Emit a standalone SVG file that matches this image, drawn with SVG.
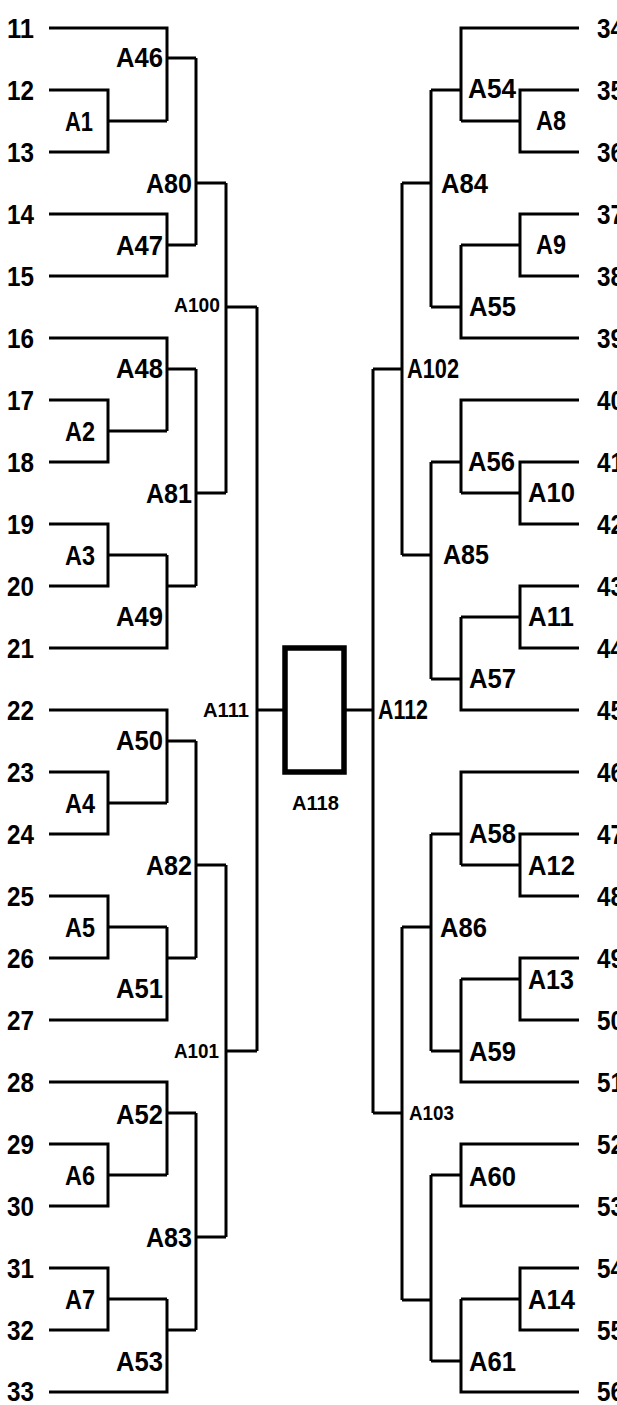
<svg xmlns="http://www.w3.org/2000/svg" width="617" height="1405" viewBox="0 0 617 1405">
<style>
.c{fill:none;stroke:#000;stroke-width:3;stroke-linejoin:miter;stroke-linecap:butt}
.t{font-family:"Liberation Sans",Arial,sans-serif;font-size:28px;font-weight:bold;fill:#000}
.s{font-family:"Liberation Sans",Arial,sans-serif;font-size:20px;font-weight:bold;fill:#000}
.box{fill:#fff;stroke:#000;stroke-width:5.5}
</style>
<rect width="617" height="1405" fill="#fff"/>
<g id="connectors" class="c">
<path d="M49 90H108V152H49M108 121H167"/>
<path d="M49 28H167V121M167 58H196"/>
<path d="M49 214H167V276H49M167 245H196"/>
<path d="M196 58V245M196 183H226"/>
<path d="M49 338H167V431M167 369H196"/>
<path d="M49 400H108V462H49M108 431H167"/>
<path d="M49 524H108V586H49M108 555H167"/>
<path d="M167 555V648H49M167 586H196"/>
<path d="M196 369V586M196 493H226"/>
<path d="M226 183V493M226 307H257"/>
<path d="M49 710H167V803M167 741H196"/>
<path d="M49 772H108V834H49M108 803H167"/>
<path d="M49 896H108V958H49M108 927H167"/>
<path d="M167 927V1020H49M167 958H196"/>
<path d="M196 741V958M196 865H226"/>
<path d="M49 1082H167V1175M167 1113H196"/>
<path d="M49 1144H108V1206H49M108 1175H167"/>
<path d="M49 1268H108V1330H49M108 1299H167"/>
<path d="M167 1299V1392H49M167 1330H196"/>
<path d="M196 1113V1330M196 1237H226"/>
<path d="M226 865V1237M226 1051H257"/>
<path d="M257 307V1051M257 710H285"/>
<path d="M579 90H520V152H579M520 121H461"/>
<path d="M579 28H461V121M461 90H431"/>
<path d="M579 214H520V276H579M520 245H461"/>
<path d="M461 245V338H579M461 307H431"/>
<path d="M431 90V307M431 183H402"/>
<path d="M579 400H461V493M461 462H431"/>
<path d="M579 462H520V524H579M520 493H461"/>
<path d="M579 586H520V648H579M520 617H461"/>
<path d="M461 617V710H579M461 679H431"/>
<path d="M431 462V679M431 555H402"/>
<path d="M402 183V555M402 369H373"/>
<path d="M579 772H461V865M461 834H431"/>
<path d="M579 834H520V896H579M520 865H461"/>
<path d="M579 958H520V1020H579M520 979H461"/>
<path d="M461 979V1082H579M461 1051H431"/>
<path d="M431 834V1051M431 927H402"/>
<path d="M579 1144H461V1206H579M461 1175H431"/>
<path d="M579 1268H520V1330H579M520 1299H461"/>
<path d="M461 1299V1392H579M461 1361H431"/>
<path d="M431 1175V1361M431 1300H402"/>
<path d="M402 927V1300M402 1113H373"/>
<path d="M373 369V1113M373 710H344"/>
</g>
<g id="teams-left" class="t">
<g id="t11"><text x="7" y="38" textLength="27" lengthAdjust="spacingAndGlyphs">11</text></g>
<g id="t12"><text x="7" y="100" textLength="27" lengthAdjust="spacingAndGlyphs">12</text></g>
<g id="t13"><text x="7" y="162" textLength="27" lengthAdjust="spacingAndGlyphs">13</text></g>
<g id="t14"><text x="7" y="224" textLength="27" lengthAdjust="spacingAndGlyphs">14</text></g>
<g id="t15"><text x="7" y="286" textLength="27" lengthAdjust="spacingAndGlyphs">15</text></g>
<g id="t16"><text x="7" y="348" textLength="27" lengthAdjust="spacingAndGlyphs">16</text></g>
<g id="t17"><text x="7" y="410" textLength="27" lengthAdjust="spacingAndGlyphs">17</text></g>
<g id="t18"><text x="7" y="472" textLength="27" lengthAdjust="spacingAndGlyphs">18</text></g>
<g id="t19"><text x="7" y="534" textLength="27" lengthAdjust="spacingAndGlyphs">19</text></g>
<g id="t20"><text x="7" y="596" textLength="27" lengthAdjust="spacingAndGlyphs">20</text></g>
<g id="t21"><text x="7" y="658" textLength="27" lengthAdjust="spacingAndGlyphs">21</text></g>
<g id="t22"><text x="7" y="720" textLength="27" lengthAdjust="spacingAndGlyphs">22</text></g>
<g id="t23"><text x="7" y="782" textLength="27" lengthAdjust="spacingAndGlyphs">23</text></g>
<g id="t24"><text x="7" y="844" textLength="27" lengthAdjust="spacingAndGlyphs">24</text></g>
<g id="t25"><text x="7" y="906" textLength="27" lengthAdjust="spacingAndGlyphs">25</text></g>
<g id="t26"><text x="7" y="968" textLength="27" lengthAdjust="spacingAndGlyphs">26</text></g>
<g id="t27"><text x="7" y="1030" textLength="27" lengthAdjust="spacingAndGlyphs">27</text></g>
<g id="t28"><text x="7" y="1092" textLength="27" lengthAdjust="spacingAndGlyphs">28</text></g>
<g id="t29"><text x="7" y="1154" textLength="27" lengthAdjust="spacingAndGlyphs">29</text></g>
<g id="t30"><text x="7" y="1216" textLength="27" lengthAdjust="spacingAndGlyphs">30</text></g>
<g id="t31"><text x="7" y="1278" textLength="27" lengthAdjust="spacingAndGlyphs">31</text></g>
<g id="t32"><text x="7" y="1340" textLength="27" lengthAdjust="spacingAndGlyphs">32</text></g>
<g id="t33"><text x="7" y="1401" textLength="27" lengthAdjust="spacingAndGlyphs">33</text></g>
</g>
<g id="teams-right" class="t">
<g id="t34"><text x="597" y="38" textLength="27" lengthAdjust="spacingAndGlyphs">34</text></g>
<g id="t35"><text x="597" y="100" textLength="27" lengthAdjust="spacingAndGlyphs">35</text></g>
<g id="t36"><text x="597" y="162" textLength="27" lengthAdjust="spacingAndGlyphs">36</text></g>
<g id="t37"><text x="597" y="224" textLength="27" lengthAdjust="spacingAndGlyphs">37</text></g>
<g id="t38"><text x="597" y="286" textLength="27" lengthAdjust="spacingAndGlyphs">38</text></g>
<g id="t39"><text x="597" y="348" textLength="27" lengthAdjust="spacingAndGlyphs">39</text></g>
<g id="t40"><text x="597" y="410" textLength="27" lengthAdjust="spacingAndGlyphs">40</text></g>
<g id="t41"><text x="597" y="472" textLength="27" lengthAdjust="spacingAndGlyphs">41</text></g>
<g id="t42"><text x="597" y="534" textLength="27" lengthAdjust="spacingAndGlyphs">42</text></g>
<g id="t43"><text x="597" y="596" textLength="27" lengthAdjust="spacingAndGlyphs">43</text></g>
<g id="t44"><text x="597" y="658" textLength="27" lengthAdjust="spacingAndGlyphs">44</text></g>
<g id="t45"><text x="597" y="720" textLength="27" lengthAdjust="spacingAndGlyphs">45</text></g>
<g id="t46"><text x="597" y="782" textLength="27" lengthAdjust="spacingAndGlyphs">46</text></g>
<g id="t47"><text x="597" y="844" textLength="27" lengthAdjust="spacingAndGlyphs">47</text></g>
<g id="t48"><text x="597" y="906" textLength="27" lengthAdjust="spacingAndGlyphs">48</text></g>
<g id="t49"><text x="597" y="968" textLength="27" lengthAdjust="spacingAndGlyphs">49</text></g>
<g id="t50"><text x="597" y="1030" textLength="27" lengthAdjust="spacingAndGlyphs">50</text></g>
<g id="t51"><text x="597" y="1092" textLength="27" lengthAdjust="spacingAndGlyphs">51</text></g>
<g id="t52"><text x="597" y="1154" textLength="27" lengthAdjust="spacingAndGlyphs">52</text></g>
<g id="t53"><text x="597" y="1216" textLength="27" lengthAdjust="spacingAndGlyphs">53</text></g>
<g id="t54"><text x="597" y="1278" textLength="27" lengthAdjust="spacingAndGlyphs">54</text></g>
<g id="t55"><text x="597" y="1340" textLength="27" lengthAdjust="spacingAndGlyphs">55</text></g>
<g id="t56"><text x="597" y="1401" textLength="27" lengthAdjust="spacingAndGlyphs">56</text></g>
</g>
<g id="matches" class="t">
<g id="A1"><text x="65" y="131" textLength="28" lengthAdjust="spacingAndGlyphs">A1</text></g>
<g id="A2"><text x="65" y="441" textLength="30" lengthAdjust="spacingAndGlyphs">A2</text></g>
<g id="A3"><text x="65" y="565" textLength="30" lengthAdjust="spacingAndGlyphs">A3</text></g>
<g id="A4"><text x="65" y="813" textLength="30" lengthAdjust="spacingAndGlyphs">A4</text></g>
<g id="A5"><text x="65" y="937" textLength="30" lengthAdjust="spacingAndGlyphs">A5</text></g>
<g id="A6"><text x="65" y="1185" textLength="30" lengthAdjust="spacingAndGlyphs">A6</text></g>
<g id="A7"><text x="65" y="1309" textLength="30" lengthAdjust="spacingAndGlyphs">A7</text></g>
<g id="A46"><text x="116" y="67" textLength="47" lengthAdjust="spacingAndGlyphs">A46</text></g>
<g id="A47"><text x="116" y="255" textLength="47" lengthAdjust="spacingAndGlyphs">A47</text></g>
<g id="A48"><text x="116" y="378" textLength="47" lengthAdjust="spacingAndGlyphs">A48</text></g>
<g id="A49"><text x="116" y="626" textLength="47" lengthAdjust="spacingAndGlyphs">A49</text></g>
<g id="A50"><text x="116" y="750" textLength="47" lengthAdjust="spacingAndGlyphs">A50</text></g>
<g id="A51"><text x="116" y="998" textLength="47" lengthAdjust="spacingAndGlyphs">A51</text></g>
<g id="A52"><text x="116" y="1124" textLength="47" lengthAdjust="spacingAndGlyphs">A52</text></g>
<g id="A53"><text x="116" y="1371" textLength="47" lengthAdjust="spacingAndGlyphs">A53</text></g>
<g id="A80"><text x="146" y="193" textLength="46" lengthAdjust="spacingAndGlyphs">A80</text></g>
<g id="A81"><text x="146" y="503" textLength="46" lengthAdjust="spacingAndGlyphs">A81</text></g>
<g id="A82"><text x="146" y="875" textLength="46" lengthAdjust="spacingAndGlyphs">A82</text></g>
<g id="A83"><text x="146" y="1247" textLength="46" lengthAdjust="spacingAndGlyphs">A83</text></g>
<g id="A100"><text class="s" x="174" y="312" textLength="46" lengthAdjust="spacingAndGlyphs">A100</text></g>
<g id="A101"><text class="s" x="174" y="1058" textLength="45" lengthAdjust="spacingAndGlyphs">A101</text></g>
<g id="A111"><text class="s" x="203" y="717" textLength="46" lengthAdjust="spacingAndGlyphs">A111</text></g>
<g id="A112"><text x="378" y="719" textLength="50" lengthAdjust="spacingAndGlyphs">A112</text></g>
<g id="A54"><text x="468" y="98" textLength="48" lengthAdjust="spacingAndGlyphs">A54</text></g>
<g id="A8"><text x="536" y="130" textLength="30" lengthAdjust="spacingAndGlyphs">A8</text></g>
<g id="A84"><text x="441" y="193" textLength="47" lengthAdjust="spacingAndGlyphs">A84</text></g>
<g id="A9"><text x="536" y="254" textLength="30" lengthAdjust="spacingAndGlyphs">A9</text></g>
<g id="A55"><text x="469" y="316" textLength="47" lengthAdjust="spacingAndGlyphs">A55</text></g>
<g id="A102"><text x="407" y="378" textLength="52" lengthAdjust="spacingAndGlyphs">A102</text></g>
<g id="A56"><text x="468" y="471" textLength="47" lengthAdjust="spacingAndGlyphs">A56</text></g>
<g id="A10"><text x="528" y="502" textLength="47" lengthAdjust="spacingAndGlyphs">A10</text></g>
<g id="A85"><text x="443" y="564" textLength="46" lengthAdjust="spacingAndGlyphs">A85</text></g>
<g id="A11"><text x="528" y="626" textLength="46" lengthAdjust="spacingAndGlyphs">A11</text></g>
<g id="A57"><text x="469" y="688" textLength="47" lengthAdjust="spacingAndGlyphs">A57</text></g>
<g id="A58"><text x="469" y="843" textLength="47" lengthAdjust="spacingAndGlyphs">A58</text></g>
<g id="A12"><text x="528" y="875" textLength="47" lengthAdjust="spacingAndGlyphs">A12</text></g>
<g id="A86"><text x="440" y="937" textLength="47" lengthAdjust="spacingAndGlyphs">A86</text></g>
<g id="A13"><text x="528" y="989" textLength="46" lengthAdjust="spacingAndGlyphs">A13</text></g>
<g id="A59"><text x="469" y="1061" textLength="47" lengthAdjust="spacingAndGlyphs">A59</text></g>
<g id="A103"><text class="s" x="409" y="1120" textLength="45" lengthAdjust="spacingAndGlyphs">A103</text></g>
<g id="A60"><text x="469" y="1186" textLength="47" lengthAdjust="spacingAndGlyphs">A60</text></g>
<g id="A14"><text x="528" y="1309" textLength="47" lengthAdjust="spacingAndGlyphs">A14</text></g>
<g id="A61"><text x="469" y="1371" textLength="47" lengthAdjust="spacingAndGlyphs">A61</text></g>
</g>
<g id="A118">
<rect class="box" x="285" y="648" width="59" height="124"/>
<text class="s" x="292" y="810" textLength="47" lengthAdjust="spacingAndGlyphs">A118</text>
</g>
</svg>
